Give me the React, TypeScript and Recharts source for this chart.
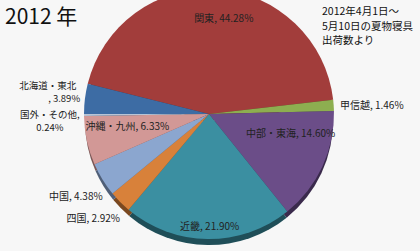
import { PieChart, Pie, Cell } from 'recharts';

const regions = ['関東', '甲信越', '中部・東海', '近畿', '四国', '中国', '沖縄・九州', '国外・その他', '北海道・東北'];
const shares = [44.28, 1.46, 14.6, 21.9, 2.92, 4.38, 6.33, 0.24, 3.89];
const shareLabels = ['44.28%', '1.46%', '14.60%', '21.90%', '2.92%', '4.38%', '6.33%', '0.24%', '3.89%'];
const noteLines = ['2012年4月1日～', '5月10日の夏物寝具', '出荷数より'];

const faceColors = ['#A23D3B', '#8DAE50', '#6B4D88', '#3B8FA1', '#D8813A', '#8BA6CF', '#D29896', '#B8C4D6', '#3D6CA4'];
const rimColors = ['#5E2322', '#4F6530', '#3A2A4C', '#1F4E58', '#7A4820', '#4F5F78', '#7A5756', '#6A7280', '#223D5E'];

const data = regions.map((name, i) => ({ name, value: shares[i], pct: shareLabels[i] }));

// label placement: radius relative to outer radius, angle shift, anchor, where to break the line
const placement: Record<string, { r: number; shift: number; anchor: 'start' | 'middle' | 'end'; split?: 'before' | 'after' }> = {
  '関東': { r: 0.78, shift: -5, anchor: 'middle' },
  '甲信越': { r: 1.05, shift: 0, anchor: 'start' },
  '中部・東海': { r: 0.67, shift: 12, anchor: 'middle' },
  '近畿': { r: 0.89, shift: 1, anchor: 'middle' },
  '四国': { r: 1.24, shift: -3, anchor: 'middle' },
  '中国': { r: 1.25, shift: 0, anchor: 'middle' },
  '沖縄・九州': { r: 0.66, shift: -4, anchor: 'middle' },
  '国外・その他': { r: 1.29, shift: 2, anchor: 'middle', split: 'after' },
  '北海道・東北': { r: 1.27, shift: -4, anchor: 'end', split: 'before' },
};

const RADIAN = Math.PI / 180;
const font = '"Noto Sans CJK JP", "Noto Sans", sans-serif';

function renderLabel(props: any) {
  const { cx, cy, midAngle, outerRadius, payload } = props;
  const p = placement[payload.name];
  const a = (midAngle + p.shift) * RADIAN;
  const x = cx + outerRadius * p.r * Math.cos(a);
  const y = cy - outerRadius * p.r * Math.sin(a);
  if (p.split === 'after') {
    return (
      <text x={x} y={y} textAnchor={p.anchor} fontSize={9.5} fill="#222" fontFamily={font}>
        <tspan x={x + 2} dy={-3}>{payload.name},</tspan>
        <tspan x={x + 2} dy={13.5}>{payload.pct}</tspan>
      </text>
    );
  }
  if (p.split === 'before') {
    return (
      <text x={x + 23} y={y} textAnchor="end" fontSize={9.5} fill="#222" fontFamily={font}>
        <tspan x={x + 23} dy={5}>{payload.name}</tspan>
        <tspan x={x + 27} dy={13.5}>, {payload.pct}</tspan>
      </text>
    );
  }
  return (
    <text x={x} y={y} textAnchor={p.anchor} dominantBaseline="central" fontSize={10} fill="#222" fontFamily={font}>
      {payload.name}, {payload.pct}
    </text>
  );
}

export default function App() {
  return (
    <div style={{ position: 'absolute', left: 0, top: 0, width: 420, height: 251, background: '#F7F7F7', overflow: 'hidden' }}>
      <PieChart width={420} height={251} margin={{ top: 0, right: 0, bottom: 0, left: 0 }}>
        <Pie
          data={data}
          dataKey="value"
          cx={209}
          cy={121}
          outerRadius={124}
          startAngle={166}
          endAngle={-194}
          stroke="none"
          isAnimationActive={false}
        >
          {data.map((d, i) => (
            <Cell key={d.name} fill={rimColors[i]} />
          ))}
        </Pie>
        <Pie
          data={data}
          dataKey="value"
          cx={209}
          cy={114}
          outerRadius={125}
          startAngle={166}
          endAngle={-194}
          stroke="none"
          label={renderLabel}
          labelLine={false}
          isAnimationActive={false}
        >
          {data.map((d, i) => (
            <Cell key={d.name} fill={faceColors[i]} />
          ))}
        </Pie>
      </PieChart>
      <div style={{ position: 'absolute', left: 5, top: 2, fontSize: 21, fontFamily: font, color: '#111', lineHeight: '26px' }}>
        2012 年
      </div>
      {noteLines.map((line, i) => (
        <div
          key={line}
          style={{ position: 'absolute', left: 322, top: 4 + i * 14.5, height: 14, fontSize: 10.5, fontFamily: font, color: '#111', lineHeight: '14px', whiteSpace: 'nowrap' }}
        >
          {line}
        </div>
      ))}
    </div>
  );
}
